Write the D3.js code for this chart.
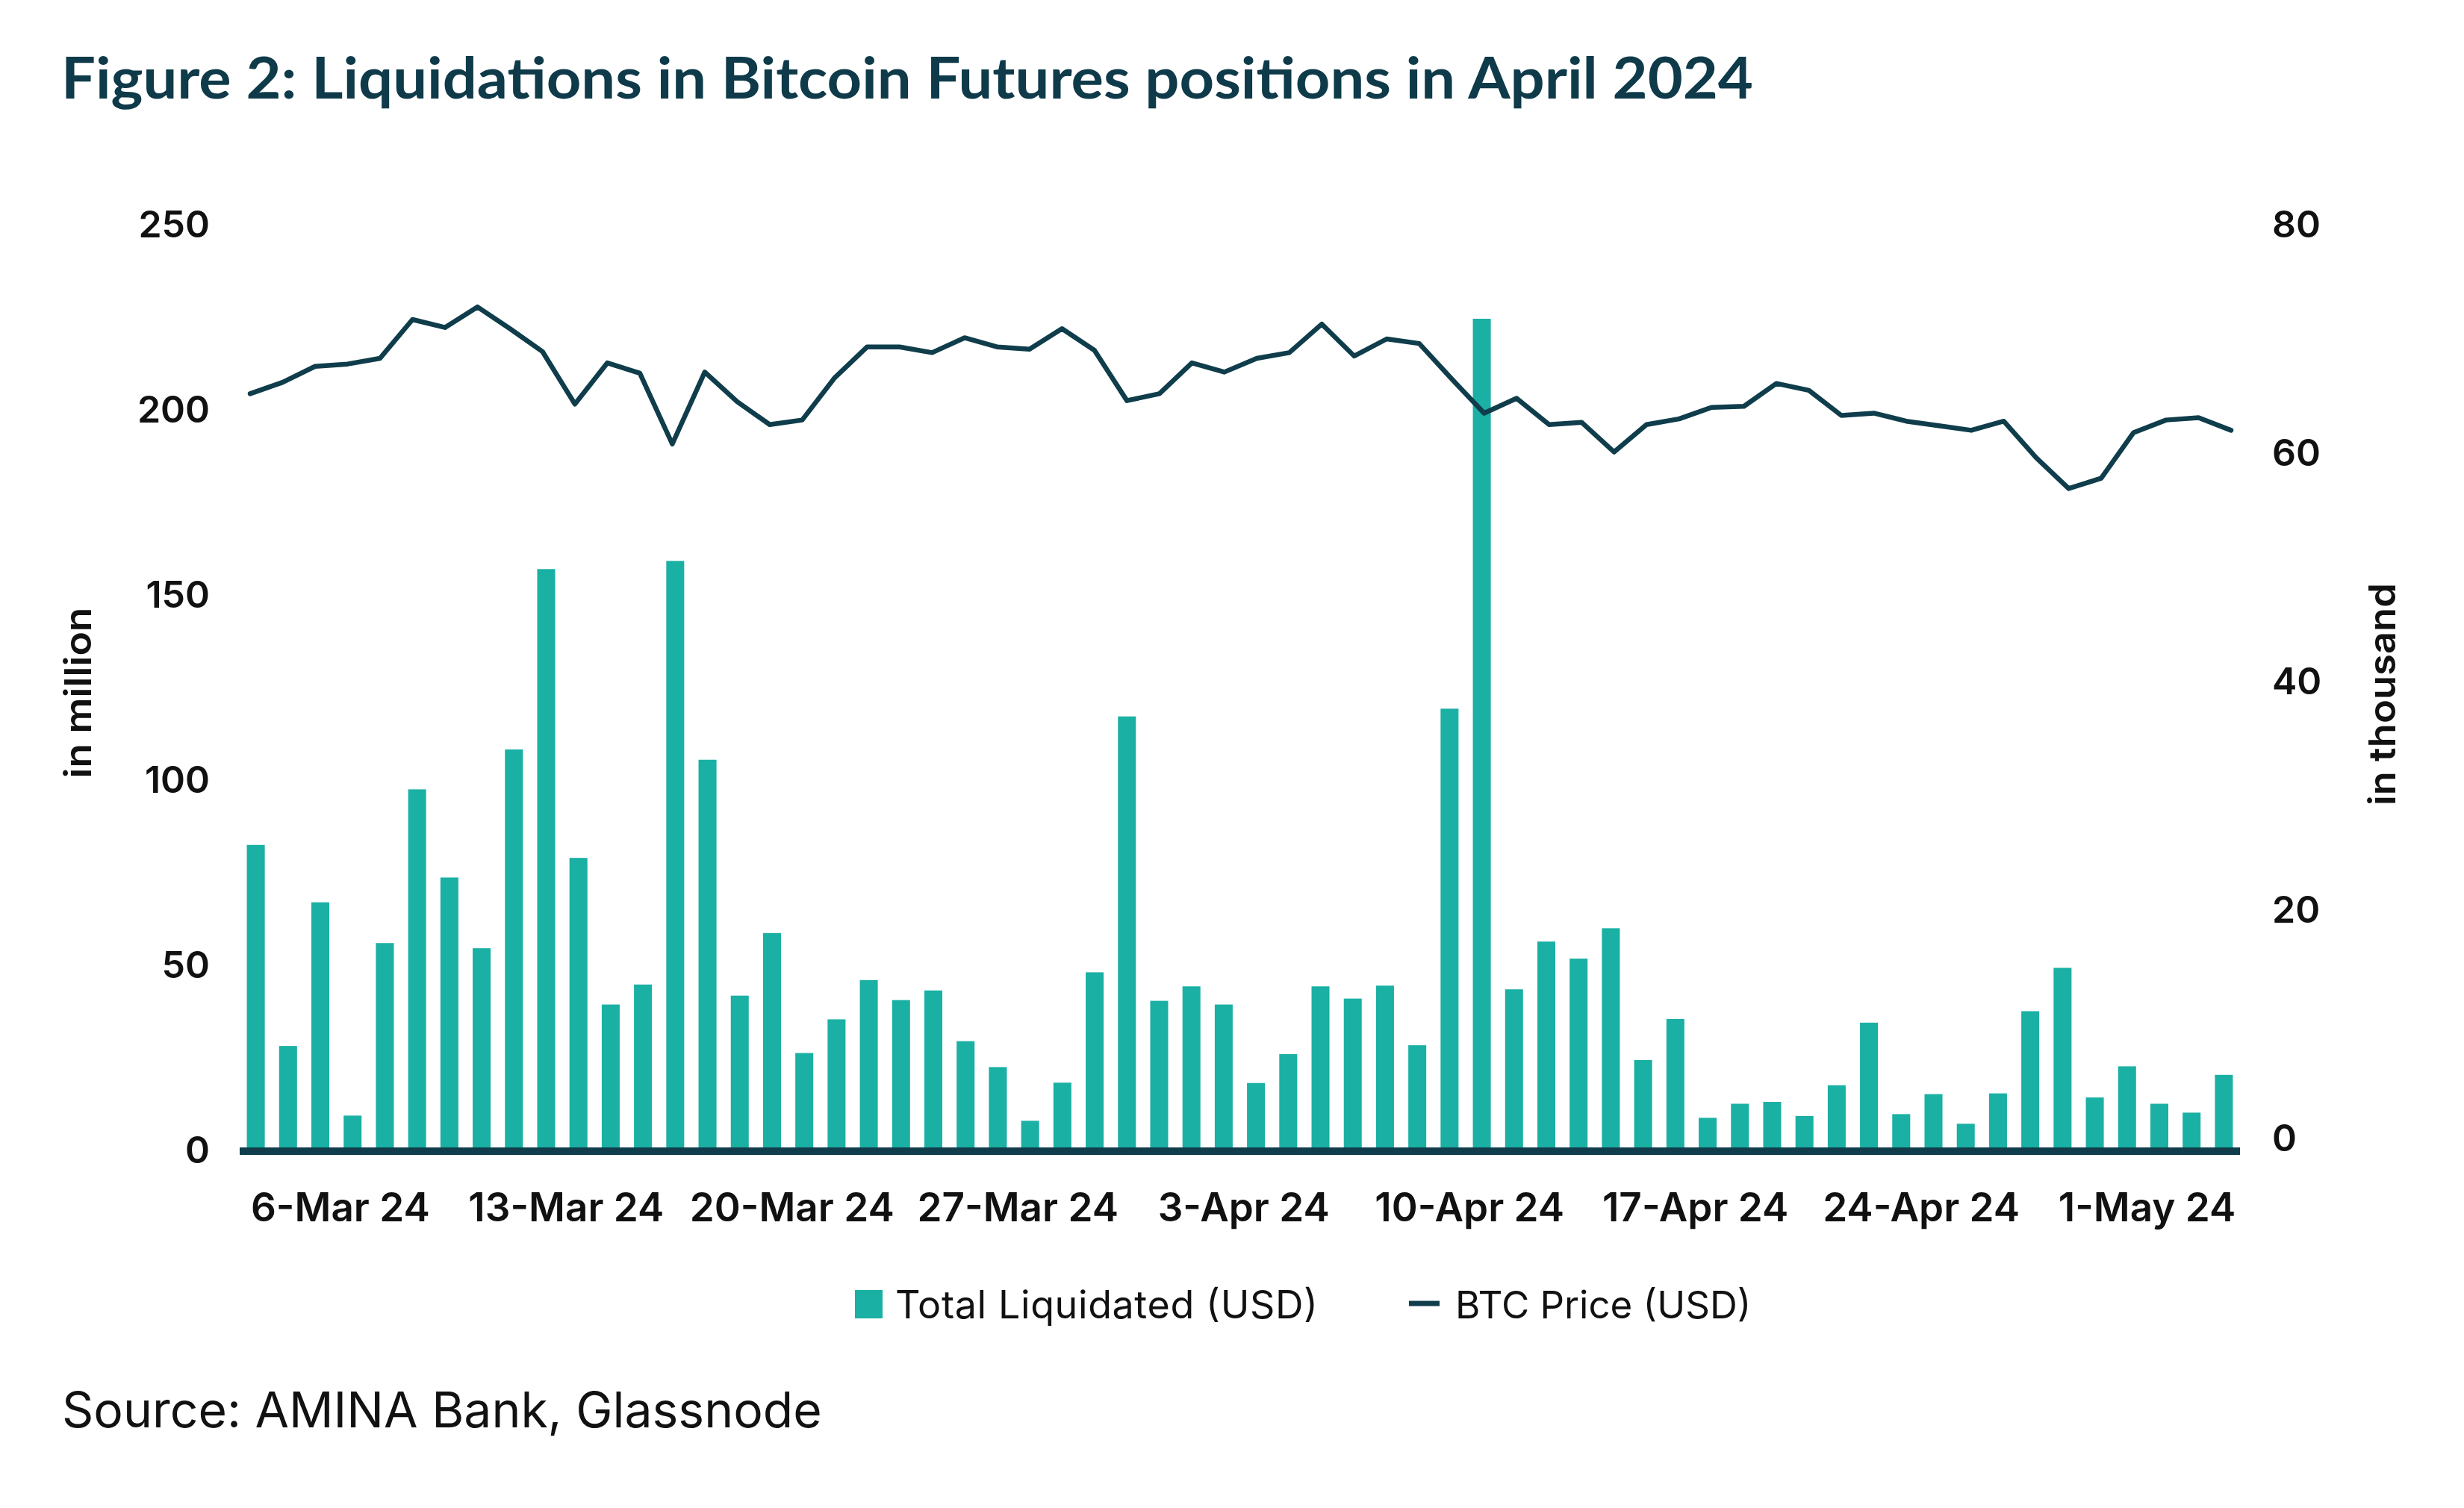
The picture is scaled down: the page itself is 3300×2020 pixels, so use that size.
<!DOCTYPE html>
<html>
<head>
<meta charset="utf-8">
<script src="https://cdn.jsdelivr.net/npm/d3@7"></script>
<style>
    body { margin: 0; background: #ffffff; }
    svg { display: block; font-family: Inter, "Noto Sans", sans-serif; }
</style>
</head>
<body>
<div id="container"></div>
<script>

// daily categories, 4-Mar-2024 .. 4-May-2024
var dates = d3.timeDay.range(new Date(2024, 2, 4), new Date(2024, 4, 5));

// Total liquidated, USD million
var liquidated = [82.5, 28.2, 67, 9.4, 56, 97.5, 73.7, 54.6, 108.3, 157, 79, 39.4, 44.8, 159.2, 105.5,
    41.8, 58.7, 26.3, 35.4, 46, 40.6, 43.2, 29.5, 22.5, 8, 18.3, 48.1, 117.2, 40.4, 44.3, 39.4,
    18.2, 26, 44.3, 41, 44.5, 28.4, 119.3, 224.6, 43.5, 56.4, 51.8, 60, 24.4, 35.5, 8.8, 12.6,
    13.1, 9.3, 17.6, 34.5, 9.8, 15.2, 7.2, 15.4, 37.6, 49.3, 14.3, 22.7, 12.6, 10.2, 20.4];

// BTC price, USD thousand
var btcPrice = [65.2, 66.2, 67.6, 67.8, 68.3, 71.7, 71.0, 72.8, 70.9, 68.9, 64.3, 67.9, 67.0, 60.8, 67.1,
    64.5, 62.5, 62.9, 66.6, 69.3, 69.3, 68.8, 70.1, 69.3, 69.1, 70.9, 69.0, 64.6, 65.2, 67.9, 67.1,
    68.3, 68.8, 71.3, 68.5, 70.0, 69.6, 66.5, 63.5, 64.8, 62.5, 62.7, 60.1, 62.5, 63.0, 64.0, 64.1,
    66.1, 65.5, 63.3, 63.5, 62.8, 62.4, 62.0, 62.8, 59.6, 56.9, 57.8, 61.8, 62.9, 63.1, 62.0];

var leftTicks = [0, 50, 100, 150, 200, 250];
var rightTicks = [0, 20, 40, 60, 80];
var tickDates = ["6-Mar 24", "13-Mar 24", "20-Mar 24", "27-Mar 24", "3-Apr 24",
    "10-Apr 24", "17-Apr 24", "24-Apr 24", "1-May 24"];

var barColor = "#1ab0a4";
var lineColor = "#0f3d4b";
var textColor = "#111111";
var fmt = d3.timeFormat("%-d-%b %y");

var W = 3300, H = 2020;
var svg = d3.select("#container").append("svg")
    .attr("width", W)
    .attr("height", H);

svg.append("rect").attr("width", W).attr("height", H).attr("fill", "#ffffff");

var x = d3.scaleBand()
    .domain(dates.map(fmt))
    .range([321, 3000])
    .paddingInner(0.444)
    .paddingOuter(0.222);

var xLine = d3.scalePoint()
    .domain(dates.map(fmt))
    .range([335, 2988]);

var yL = d3.scaleLinear().domain([0, 250]).range([1541, 301]);
var yR = d3.scaleLinear().domain([0, 80]).range([1525, 301]);

// title
svg.append("text")
    .attr("x", 82)
    .attr("y", 132)
    .attr("fill", "#0e3a49")
    .style("font-family", "Lato, Inter, sans-serif")
    .style("font-weight", 700)
    .style("font-size", "76px")
    .attr("textLength", 2266)
    .attr("lengthAdjust", "spacingAndGlyphs")
    .text("Figure 2: Liquidations in Bitcoin Futures positions in April 2024");

// bars
svg.append("g")
    .selectAll("rect")
    .data(liquidated)
    .enter()
    .append("rect")
    .attr("x", function (d, i) { return x(fmt(dates[i])); })
    .attr("width", x.bandwidth())
    .attr("y", function (d) { return yL(d); })
    .attr("height", function (d) { return yL(0) - yL(d); })
    .attr("fill", barColor);

// price line
var line = d3.line()
    .x(function (d, i) { return xLine(fmt(dates[i])); })
    .y(function (d) { return yR(d); });

svg.append("path")
    .datum(btcPrice)
    .attr("d", line)
    .attr("fill", "none")
    .attr("stroke", lineColor)
    .attr("stroke-width", 6.5)
    .attr("stroke-linejoin", "round")
    .attr("stroke-linecap", "round");

// base line
svg.append("line")
    .attr("x1", 321).attr("x2", 3000)
    .attr("y1", yL(0) + 1).attr("y2", yL(0) + 1)
    .attr("stroke", lineColor)
    .attr("stroke-width", 10);

// axes
var leftAxis = svg.append("g")
    .attr("transform", "translate(290,0)")
    .call(d3.axisLeft(yL).tickValues(leftTicks).tickSize(0).tickPadding(9));

var rightAxis = svg.append("g")
    .attr("transform", "translate(3034,0)")
    .call(d3.axisRight(yR).tickValues(rightTicks).tickSize(0).tickPadding(9));

var tickKeys = dates.map(fmt).filter(function (d) { return tickDates.indexOf(d) >= 0; });
var bottomAxis = svg.append("g")
    .attr("transform", "translate(0,1598)")
    .call(d3.axisBottom(x).tickValues(tickKeys).tickSize(0).tickPadding(0));

[leftAxis, rightAxis, bottomAxis].forEach(function (g)
{
    g.select(".domain").remove();
    g.selectAll("text")
        .attr("fill", textColor)
        .style("font-family", "Inter, sans-serif")
        .style("font-weight", 600)
        .style("font-size", "50px");
});

bottomAxis.selectAll("text")
    .attr("dx", x.step() * 0.62)
    .attr("dy", "0.72em")
    .style("font-size", "53px");

// axis titles
svg.append("text")
    .attr("transform", "translate(122,928) rotate(-90)")
    .attr("text-anchor", "middle")
    .attr("fill", textColor)
    .style("font-weight", 600)
    .style("font-size", "50px")
    .attr("textLength", 229)
    .attr("lengthAdjust", "spacingAndGlyphs")
    .text("in million");

svg.append("text")
    .attr("transform", "translate(3208,930) rotate(-90)")
    .attr("text-anchor", "middle")
    .attr("fill", textColor)
    .style("font-weight", 600)
    .style("font-size", "50px")
    .attr("textLength", 298)
    .attr("lengthAdjust", "spacingAndGlyphs")
    .text("in thousand");

// legend
var legend = svg.append("g");
legend.append("rect")
    .attr("x", 1145).attr("y", 1728)
    .attr("width", 37).attr("height", 38)
    .attr("fill", barColor);
legend.append("text")
    .attr("x", 1199).attr("y", 1766)
    .attr("fill", textColor)
    .style("font-size", "52px")
    .attr("textLength", 566)
    .text("Total Liquidated (USD)");
legend.append("line")
    .attr("x1", 1887).attr("x2", 1928)
    .attr("y1", 1746).attr("y2", 1746)
    .attr("stroke", lineColor)
    .attr("stroke-width", 7);
legend.append("text")
    .attr("x", 1949).attr("y", 1766)
    .attr("fill", textColor)
    .style("font-size", "51px")
    .text("BTC Price (USD)");

// source
svg.append("text")
    .attr("x", 83).attr("y", 1912)
    .attr("fill", textColor)
    .style("font-size", "66px")
    .text("Source: AMINA Bank, Glassnode");

</script>
</body>
</html>
